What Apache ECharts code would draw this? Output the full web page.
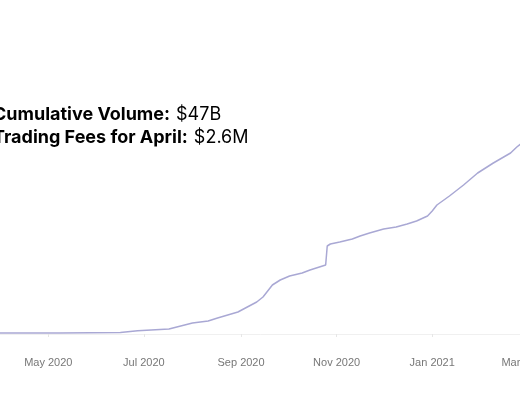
<!DOCTYPE html>
<html>
<head>
<meta charset="utf-8">
<script src="https://cdn.jsdelivr.net/npm/echarts@6/dist/echarts.min.js"></script>
<style>
html,body{margin:0;padding:0;background:#fff;}
#chart{width:520px;height:400px;}
</style>
</head>
<body>
<div id="chart"></div>
<script>
// Cumulative volume (in $B) by date
var dates = [
  '2020-03-28','2020-05-08','2020-06-16','2020-06-27','2020-07-17','2020-08-01',
  '2020-08-11','2020-08-17','2020-08-30','2020-09-05','2020-09-11','2020-09-15',
  '2020-09-18','2020-09-21','2020-09-26','2020-10-02','2020-10-10','2020-10-15',
  '2020-10-21','2020-10-25','2020-10-26','2020-10-28','2020-11-03','2020-11-11',
  '2020-11-16','2020-11-22','2020-12-01','2020-12-09','2020-12-16','2020-12-22',
  '2020-12-29','2021-01-01','2021-01-04','2021-01-12','2021-01-21','2021-01-30',
  '2021-02-09','2021-02-20','2021-02-24','2021-03-04'
];
var volumes = [
  0.2, 0.2, 0.3, 0.66, 1.0, 2.2,
  2.6, 3.2, 4.4, 5.4, 6.4, 7.4,
  8.6, 9.8, 10.8, 11.6, 12.2, 12.8,
  13.4, 13.8, 17.6, 18.0, 18.4, 19.0,
  19.6, 20.2, 21.0, 21.4, 22.0, 22.6,
  23.6, 24.6, 25.8, 27.6, 29.8, 32.2,
  34.2, 36.2, 37.4, 39.4
];
var monthNames = ['Jan','Feb','Mar','Apr','May','Jun','Jul','Aug','Sep','Oct','Nov','Dec'];
var headlineLabels = ['Cumulative Volume:', 'Trading Fees for April:'];
var headlineValues = ['$47B', '$2.6M'];

var seriesData = dates.map(function (d, i) { return [d, volumes[i]]; });

var chart = echarts.init(document.getElementById('chart'));
chart.setOption({
  animation: false,
  backgroundColor: '#ffffff',
  grid: { left: 0, right: -8, top: 40, bottom: 48, outerBoundsMode: 'none', containLabel: false },
  graphic: [{
    type: 'text',
    x: -7,
    y: 103,
    style: {
      text: '{b|' + headlineLabels[0] + '}{n|' + headlineValues[0] + '}\n{b|' + headlineLabels[1] + '}{n|' + headlineValues[1] + '}',
      rich: {
        b: { fontFamily: 'Inter', fontWeight: 'bold', fontSize: 18, color: '#111111', lineHeight: 23 },
        n: { fontFamily: 'Inter', fontWeight: 'normal', fontSize: 18, color: '#222222', lineHeight: 23, padding: [0, 0, 0, 6] }
      }
    }
  }],
  xAxis: {
    type: 'time',
    min: '2020-03-31T04:00:00',
    max: '2021-03-03T03:00:00',
    minInterval: 61 * 86400000,
    maxInterval: 61 * 86400000,
    axisLine: { show: true, lineStyle: { color: '#f0f0f0', width: 1 } },
    axisTick: { show: true, length: 3, lineStyle: { color: '#e6e6e6' } },
    splitLine: { show: false },
    axisLabel: {
      color: '#777777',
      fontFamily: 'Liberation Sans',
      fontSize: 11,
      margin: 5,
      hideOverlap: false,
      formatter: function (val) {
        var d = new Date(val);
        return monthNames[d.getMonth()] + ' ' + d.getFullYear();
      }
    }
  },
  yAxis: {
    type: 'value',
    min: -3.6,
    max: 58.8,
    show: false,
    splitLine: { show: false }
  },
  series: [{
    type: 'line',
    data: seriesData,
    showSymbol: false,
    smooth: false,
    lineStyle: { color: '#a9a8d4', width: 1.5 },
    itemStyle: { color: '#a9a8d4' }
  }]
});
</script>
</body>
</html>
